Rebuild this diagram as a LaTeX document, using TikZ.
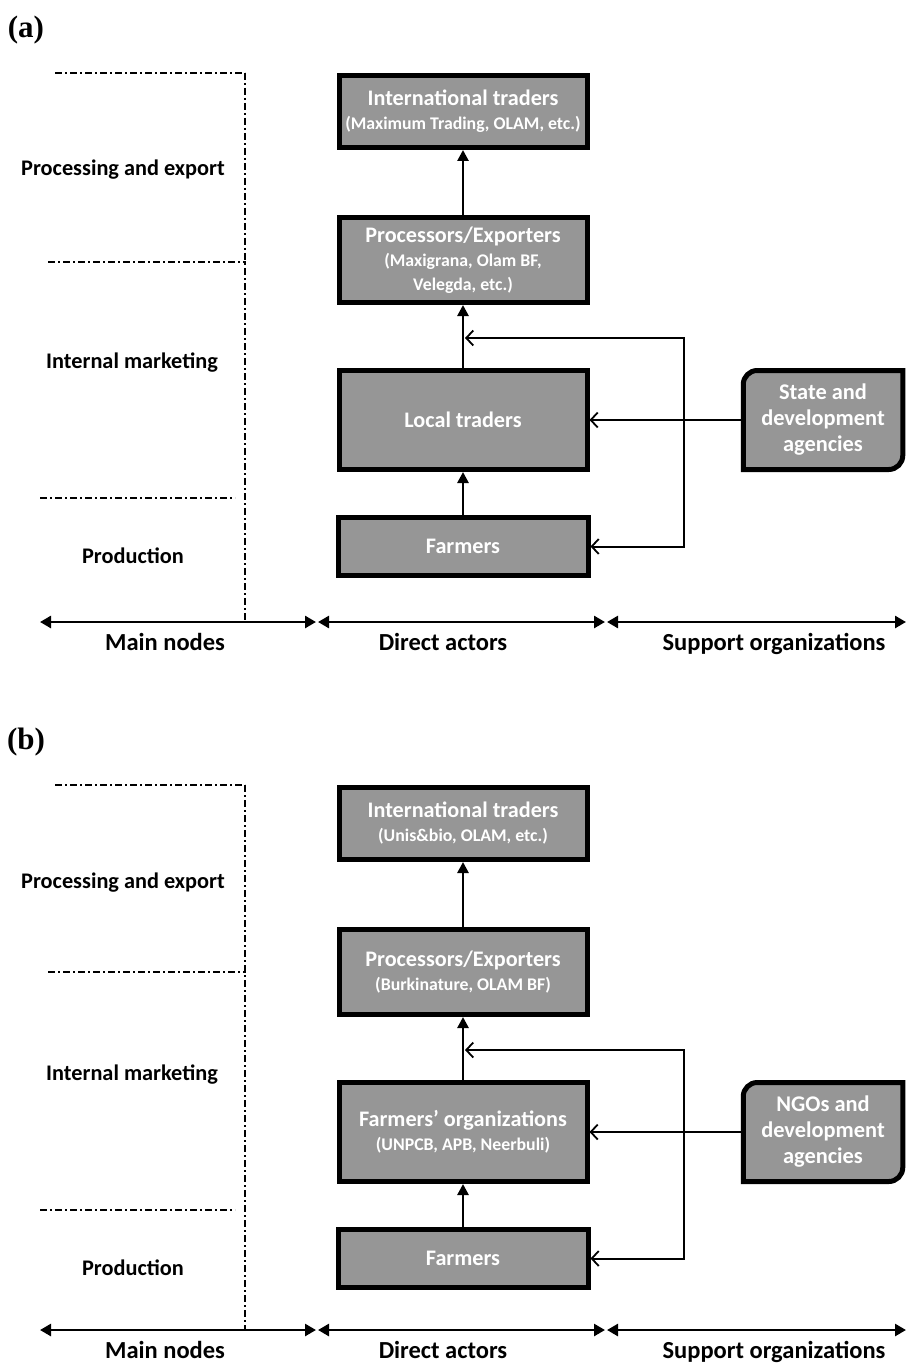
\documentclass[tikz,border=0pt]{standalone}
\usepackage{fontspec}
\setmainfont{Carlito}
\newfontfamily\panelfont{Liberation Serif}
\usetikzlibrary{arrows.meta,backgrounds}

\newcommand{\subtxt}[1]{{\fontsize{17.8}{22}\selectfont #1}}

\begin{document}
\begin{tikzpicture}[x=1pt, y=1pt,
  actor/.style={rectangle, draw=black, line width=5pt, fill={rgb,255:red,150;green,150;blue,150},
    text=white, font=\bfseries\fontsize{22.2}{24}\selectfont, align=center, inner sep=0pt,
    minimum width=248pt},
  supporter/.style={rectangle, text=white, font=\bfseries\fontsize{22.4}{26}\selectfont, align=center,
    inner sep=0pt, outer sep=0pt, minimum width=159.5pt, minimum height=99pt},
  supportline/.style={draw=black, line width=5pt, fill={rgb,255:red,150;green,150;blue,150}},
  flow/.style={line width=2.6pt, -{Triangle[length=11pt, width=11pt]}},
  feed/.style={line width=2pt, -{Straight Barb[length=7pt, width=15pt, line width=1.8pt]}},
  level/.style={line width=2pt, dash pattern=on 7pt off 3pt on 2pt off 3pt},
  axis/.style={line width=2.6pt, {Triangle[length=11pt, width=12pt]}-{Triangle[length=11pt, width=12pt]}},
  stage/.style={font=\bfseries\fontsize{22.3}{26}\selectfont},
  role/.style={anchor=base, font=\bfseries\fontsize{24.5}{28}\selectfont},
  panel/.style={font=\panelfont\bfseries\fontsize{31}{36}\selectfont}]

  \useasboundingbox (0,0) rectangle (906,-1364);

  % ---------------- panel (a) ----------------
  \node[panel] at (26,-30) (taga) {(a)};

  \node[actor, minimum height=72pt] at (463,-111.5) (intla)
  {International traders\\ \subtxt{(Maximum Trading, OLAM, etc.)}};
  \node[actor, minimum height=85pt, below of = intla, node distance = 148.5pt] (proca)
  {Processors/Exporters\\ \subtxt{(Maxigrana, Olam BF,}\\ \subtxt{Velegda, etc.)}};
  \node[actor, minimum height=99pt, below of = proca, node distance = 160pt] (locala) {Local traders};
  \node[actor, minimum height=58pt, minimum width=250pt, below of = locala, node distance = 126.5pt] (farma) {Farmers};

  \node[supporter] at (823,-420) (statea) {State and\\development\\agencies};
  \begin{pgfonlayer}{background}
    \draw[supportline] ([xshift=14pt]statea.north west) -- (statea.north east)
      -- ([yshift=14pt]statea.south east) arc[start angle=0, end angle=-90, radius=14pt]
      -- (statea.south west) -- ([yshift=-14pt]statea.north west)
      arc[start angle=180, end angle=90, radius=14pt] -- cycle;
  \end{pgfonlayer}

  \draw[flow] (proca) -- (intla);
  \draw[flow] (locala) -- (proca);
  \draw[flow] (farma) -- (locala);

  \coordinate (juncta) at (684,-420);
  \coordinate (upa) at (465,-338);
  \draw[feed] (statea.west) -- (locala.east);
  \draw[feed] (juncta) |- (upa);
  \draw[feed] (juncta) |- (farma.east);

  % levels
  \coordinate (topa) at (245,-73);
  \coordinate (basea) at (245,-622);
  \draw[level] (55,-73) -- (topa);
  \draw[level] (48,-262) -- (246,-262);
  \draw[level] (40,-498) -- (235,-498);
  \draw[level] (topa) -- (basea);

  \node[stage] at (123,-170) (expa) {Processing and export};
  \node[stage] at (132,-363) (marka) {Internal marketing};
  \node[stage] at (133,-556) (proda) {Production};

  % axis
  \coordinate (ax0a) at (40,-622);
  \coordinate (ax1a) at (316,-622);
  \coordinate (ax2a) at (318,-622);
  \coordinate (ax3a) at (605,-622);
  \coordinate (ax4a) at (607,-622);
  \coordinate (ax5a) at (906,-622);
  \draw[axis] (ax0a) -- (ax1a);
  \draw[axis] (ax2a) -- (ax3a);
  \draw[axis] (ax4a) -- (ax5a);
  \node[role] at (165,-650) (mainnodesa) {Main nodes};
  \node[role] at (443,-650) (directa) {Direct actors};
  \node[role] at (774,-650) (supporta) {Support organizations};

  % ---------------- panel (b) ----------------
  \begin{scope}[yshift=-712pt]
    \node[panel] at (26,-30) (tagb) {(b)};

    \node[actor, minimum height=72pt] at (463,-111.5) (intlb)
    {International traders\\ \subtxt{(Unis\&bio, OLAM, etc.)}};
    \node[actor, minimum height=85pt, below of = intlb, node distance = 148.5pt] (procb)
    {Processors/Exporters\\ \subtxt{(Burkinature, OLAM BF)}};
    \node[actor, minimum height=99pt, below of = procb, node distance = 160pt] (orgb)
    {Farmers’ organizations\\ \subtxt{(UNPCB, APB, Neerbuli)}};
    \node[actor, minimum height=58pt, minimum width=250pt, below of = orgb, node distance = 126.5pt] (farmb) {Farmers};

    \node[supporter] at (823,-420) (ngob) {NGOs and\\development\\agencies};
    \begin{pgfonlayer}{background}
      \draw[supportline] ([xshift=14pt]ngob.north west) -- (ngob.north east)
        -- ([yshift=14pt]ngob.south east) arc[start angle=0, end angle=-90, radius=14pt]
        -- (ngob.south west) -- ([yshift=-14pt]ngob.north west)
        arc[start angle=180, end angle=90, radius=14pt] -- cycle;
    \end{pgfonlayer}

    \draw[flow] (procb) -- (intlb);
    \draw[flow] (orgb) -- (procb);
    \draw[flow] (farmb) -- (orgb);

    \coordinate (junctb) at (684,-420);
    \coordinate (upb) at (465,-338);
    \draw[feed] (ngob.west) -- (orgb.east);
    \draw[feed] (junctb) |- (upb);
    \draw[feed] (junctb) |- (farmb.east);

    % levels
    \coordinate (topb) at (245,-73);
    \coordinate (baseb) at (245,-618);
    \draw[level] (55,-73) -- (topb);
    \draw[level] (48,-260) -- (246,-260);
    \draw[level] (40,-498) -- (235,-498);
    \draw[level] (topb) -- (baseb);

    \node[stage] at (123,-171) (expb) {Processing and export};
    \node[stage] at (132,-363) (markb) {Internal marketing};
    \node[stage] at (133,-556) (prodb) {Production};

    % axis
    \coordinate (ax0b) at (40,-618);
    \coordinate (ax1b) at (316,-618);
    \coordinate (ax2b) at (318,-618);
    \coordinate (ax3b) at (605,-618);
    \coordinate (ax4b) at (607,-618);
    \coordinate (ax5b) at (906,-618);
    \draw[axis] (ax0b) -- (ax1b);
    \draw[axis] (ax2b) -- (ax3b);
    \draw[axis] (ax4b) -- (ax5b);
    \node[role] at (165,-646) (mainnodesb) {Main nodes};
    \node[role] at (443,-646) (directb) {Direct actors};
    \node[role] at (774,-646) (supportb) {Support organizations};
  \end{scope}

\end{tikzpicture}
\end{document}
